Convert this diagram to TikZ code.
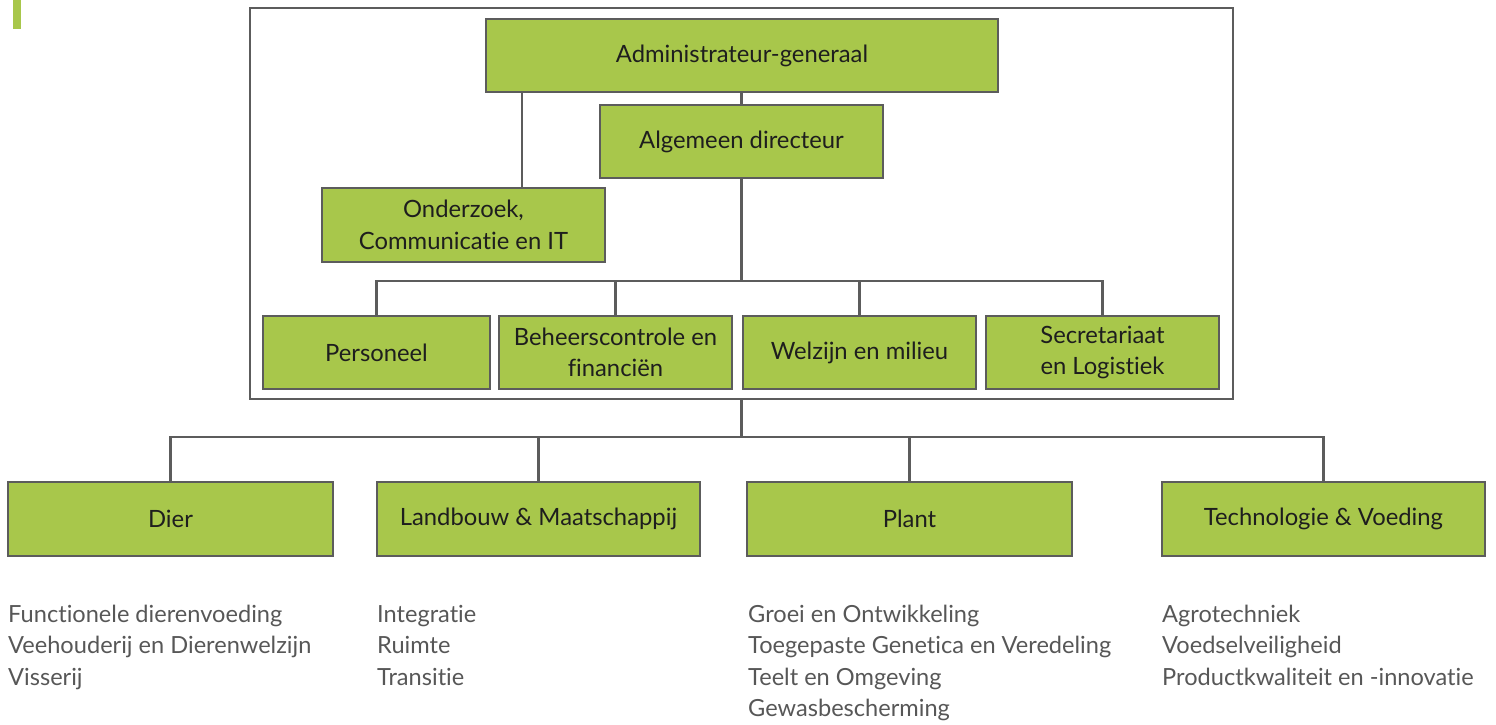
\documentclass[tikz,border=0pt]{standalone}
\usepackage{fontspec}
\setmainfont{Lato}[Ligatures={NoCommon}]
\definecolor{boxgreen}{HTML}{A8C74B}
\definecolor{edgegray}{HTML}{5C5C5C}
\definecolor{labelink}{HTML}{1E1E1E}
\definecolor{listgray}{HTML}{575757}
\begin{document}
\begin{tikzpicture}[x=1pt,y=-1pt,
  orgbox/.style={draw=edgegray, line width=2.4pt, fill=boxgreen, inner sep=0pt,
    align=center, text=labelink, font=\fontsize{23.8}{31.5}\selectfont},
  link/.style={draw=edgegray, line width=2.2pt},
  listline/.style={anchor=base west, inner sep=0pt, text=listgray,
    font=\fontsize{23.6}{31.5}\selectfont}]
\useasboundingbox (0,0) rectangle (1496,724);
% accent bar
\fill[boxgreen] (13,0) rectangle (21,29);
% frame
\node[draw=edgegray, line width=2.5pt, minimum width=983pt, minimum height=391pt, inner sep=0pt] (frame) at (741.5,203.5) {};
% top boxes
\node[orgbox, minimum width=512pt, minimum height=73pt] (admin) at (742,55.5) {Administrateur-generaal};
\node[orgbox, minimum width=283pt, minimum height=73pt] (algdir) at (741.5,141.5) {Algemeen directeur};
\node[orgbox, minimum width=283pt, minimum height=74pt] (onderzoek) at (463.5,225) {Onderzoek,\\Communicatie en IT};
\node[orgbox, minimum width=227pt, minimum height=73pt] (personeel) at (376.5,352.5) {Personeel};
\node[orgbox, minimum width=233pt, minimum height=73pt] (beheers) at (615.5,352.5) {Beheerscontrole en\\financiën};
\node[orgbox, minimum width=233pt, minimum height=73pt] (welzijn) at (859.5,352.5) {Welzijn en milieu};
\node[orgbox, minimum width=233pt, minimum height=73pt] (secret) at (1102.5,352.5) {Secretariaat\\en Logistiek};
% bottom boxes
\node[orgbox, minimum width=325pt, minimum height=74pt] (dier) at (170.5,519) {Dier};
\node[orgbox, minimum width=323pt, minimum height=74pt] (landbouw) at (538.5,519) {Landbouw \& Maatschappij};
\node[orgbox, minimum width=325pt, minimum height=74pt] (plant) at (909.5,519) {Plant};
\node[orgbox, minimum width=323pt, minimum height=74pt] (tech) at (1323.5,519) {Technologie \& Voeding};
% connectors inside frame
\draw[link] (algdir.north |- admin.south) -- (algdir.north);
\coordinate (leftdrop) at (522,92);
\draw[link] (leftdrop) -- (leftdrop |- onderzoek.north);
\coordinate (busA) at (741.5,281);
\draw[link] (algdir.south) -- (busA);
\draw[link] (personeel.north) |- (busA) -| (secret.north);
\draw[link] (beheers.north) -- (beheers.north |- busA);
\draw[link] (welzijn.north) -- (welzijn.north |- busA);
% connectors below frame
\coordinate (busB) at (741.5,437);
\draw[link] (frame.south) -- (busB);
\draw[link] (dier.north) |- (busB) -| (tech.north);
\draw[link] (landbouw.north) -- (landbouw.north |- busB);
\draw[link] (plant.north) -- (plant.north |- busB);
% lists
\node[listline] (d1) at (8,622) {Functionele dierenvoeding};
\node[listline] (d2) at (8,653.5) {Veehouderij en Dierenwelzijn};
\node[listline] (d3) at (8,685) {Visserij};
\node[listline] (l1) at (377,622) {Integratie};
\node[listline] (l2) at (377,653.5) {Ruimte};
\node[listline] (l3) at (377,685) {Transitie};
\node[listline] (p1) at (748,622) {Groei en Ontwikkeling};
\node[listline] (p2) at (748,653.5) {Toegepaste Genetica en Veredeling};
\node[listline] (p3) at (748,685) {Teelt en Omgeving};
\node[listline] (p4) at (748,716.5) {Gewasbescherming};
\node[listline] (t1) at (1162,622) {Agrotechniek};
\node[listline] (t2) at (1162,653.5) {Voedselveiligheid};
\node[listline] (t3) at (1162,685) {Productkwaliteit en -innovatie};
\end{tikzpicture}
\end{document}
